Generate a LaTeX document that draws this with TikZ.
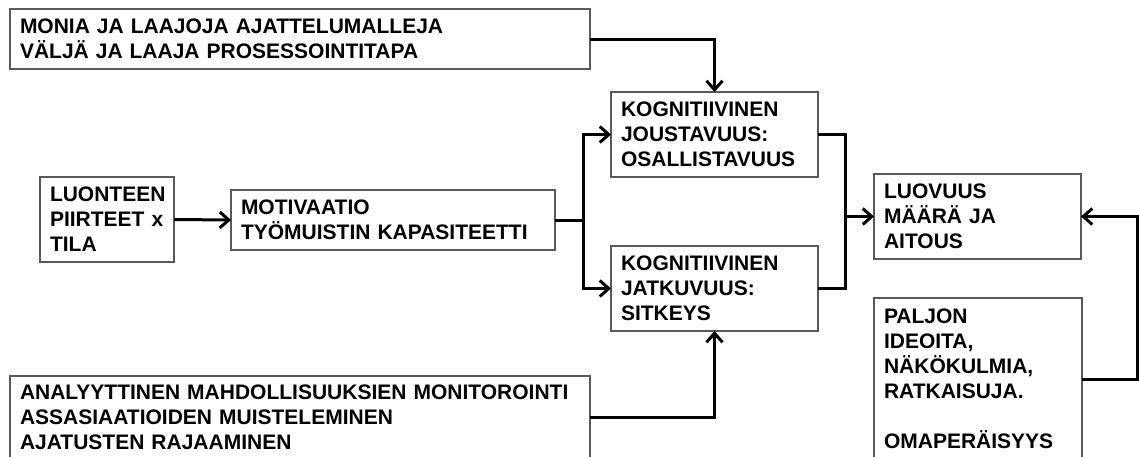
\documentclass[tikz,border=0pt]{standalone}
\usepackage{fontspec}
\setmainfont{Liberation Sans}
\usetikzlibrary{arrows.meta}
\begin{document}
\begin{tikzpicture}[x={(1pt,0)}, y={(0,-1pt)},
  box/.style={draw=black!65, line width=1.2pt, align=left, anchor=north west,
    inner xsep=10pt, inner ysep=0pt, outer sep=0pt,
    font=\fontsize{21}{25}\selectfont\bfseries},
  link/.style={line width=3pt, line join=miter},
  arr/.style={link, -{Straight Barb[length=9pt, width=16pt]}}]
\useasboundingbox (0,0) rectangle (1139,456);
\clip (0,0) rectangle (1139,456);

% boxes
\node[box, text width=560pt, minimum height=60pt] (top) at (10,9)
  {MONIA JA LAAJOJA AJATTELUMALLEJA\\VÄLJÄ JA LAAJA PROSESSOINTITAPA};
\node[box, text width=114pt, minimum height=85pt] (trait) at (40,177)
  {LUONTEEN\\PIIRTEET x\\TILA};
\node[box, text width=304pt, minimum height=60pt] (mot) at (231,190)
  {MOTIVAATIO\\TYÖMUISTIN KAPASITEETTI};
\node[box, text width=187pt, minimum height=85pt] (kj) at (611,92)
  {KOGNITIIVINEN\\JOUSTAVUUS:\\OSALLISTAVUUS};
\node[box, text width=187pt, minimum height=85pt] (kjat) at (611,246)
  {KOGNITIIVINEN\\JATKUVUUS:\\SITKEYS};
\node[box, text width=187pt, minimum height=85pt] (luo) at (874,174)
  {LUOVUUS\\MÄÄRÄ JA\\AITOUS};
\node[box, text width=188pt, minimum height=162pt] (pal) at (874,298)
  {PALJON\\IDEOITA,\\NÄKÖKULMIA,\\RATKAISUJA.\\[25pt]OMAPERÄISYYS};
\node[box, text width=560pt, minimum height=82pt] (bot) at (10,376)
  {ANALYYTTINEN MAHDOLLISUUKSIEN MONITOROINTI\\ASSASIAATIOIDEN MUISTELEMINEN\\AJATUSTEN RAJAAMINEN};

% junction points
\coordinate (split) at (583,220);
\coordinate (merge) at (845,216.5);
\coordinate (rside) at (1137,379);

% connectors
\draw[arr] (top.east) -| (kj.north);
\draw[arr] (trait.east) -- (mot.west);
\draw[link] (mot.east) -- (split);
\draw[arr] (split) |- (kj.west);
\draw[arr] (split) |- (kjat.west);
\draw[link] (kj.east) -| (merge);
\draw[link] (kjat.east) -| (merge);
\draw[arr] (merge) -- (luo.west);
\draw[arr] (bot.east) -| (kjat.south);
\draw[arr] (pal.east) -- (rside) |- (luo.east);
\end{tikzpicture}
\end{document}
